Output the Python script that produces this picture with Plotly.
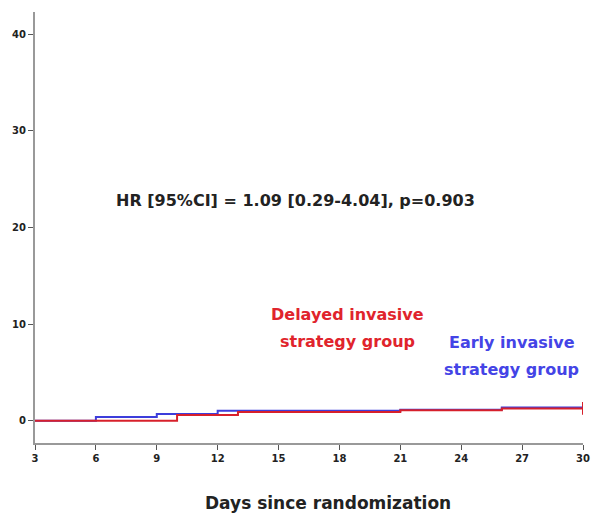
import plotly.graph_objects as go

# Step-function data (days, cumulative event %)
early_days = [3, 6, 9, 12, 21, 26, 30]
early_vals = [0.0, 0.4, 0.7, 1.05, 1.15, 1.38, 1.38]
delayed_days = [3, 10, 13, 21, 26, 30]
delayed_vals = [0.0, 0.6, 0.92, 1.08, 1.28, 1.28]

x_ticks = [3, 6, 9, 12, 15, 18, 21, 24, 27, 30]
y_ticks = [0, 10, 20, 30, 40]

BLUE = "#3d3ddb"
RED = "#d7202b"

fig = go.Figure()
fig.add_trace(go.Scatter(x=early_days, y=early_vals, mode="lines",
                         line=dict(color=BLUE, width=2, shape="hv"), showlegend=False))
fig.add_trace(go.Scatter(x=delayed_days, y=delayed_vals, mode="lines",
                         line=dict(color=RED, width=2, shape="hv"), showlegend=False))
fig.add_trace(go.Scatter(x=[delayed_days[-1]], y=[delayed_vals[-1]], mode="markers",
                         marker=dict(symbol="line-ns", size=9, line=dict(color=RED, width=2)),
                         showlegend=False))

fnt = "DejaVu Sans, sans-serif"
tickfont = dict(size=10, family=fnt, color="#222")
fig.update_layout(
    width=602, height=519,
    margin=dict(l=33, r=15, t=12, b=76),
    paper_bgcolor="white", plot_bgcolor="white",
    font=dict(family=fnt, color="#222"),
    xaxis=dict(range=[3, 30], tickvals=x_ticks, ticktext=[f"<b>{v}</b>" for v in x_ticks],
               showgrid=False, zeroline=False, showline=True, linecolor="#999",
               linewidth=2, ticks="outside", ticklen=5, tickcolor="#555", tickwidth=1,
               tickfont=tickfont),
    yaxis=dict(range=[-2.3, 42.3], tickvals=y_ticks, ticktext=[f"<b>{v}</b>" for v in y_ticks],
               showgrid=False, zeroline=False, showline=True, linecolor="#999",
               linewidth=2, ticks="outside", ticklen=5, tickcolor="#555", tickwidth=1,
               tickfont=tickfont),
)

def txt(x, y, s, color, size=16):
    fig.add_annotation(x=x, y=y, xref="x", yref="y", text=f"<b>{s}</b>",
                       showarrow=False, font=dict(size=size, family=fnt, color=color))

txt(15.85, 22.8, "HR [95%CI] = 1.09 [0.29-4.04], p=0.903", "#222")
txt(18.4, 11.0, "Delayed invasive", "#e0242c")
txt(18.4, 8.2, "strategy group", "#e0242c")
txt(26.5, 8.1, "Early invasive", "#4444e6")
txt(26.5, 5.3, "strategy group", "#4444e6")

# x-axis title (placed as annotation, slightly right of centre like the original)
fig.add_annotation(x=(329 - 33) / 554, y=-(503 - 443) / 431, xref="paper", yref="paper",
                   xanchor="center", yanchor="middle",
                   text="<b>Days since randomization</b>", showarrow=False,
                   font=dict(size=17, family=fnt, color="#222"))

fig.write_html("out.html")
